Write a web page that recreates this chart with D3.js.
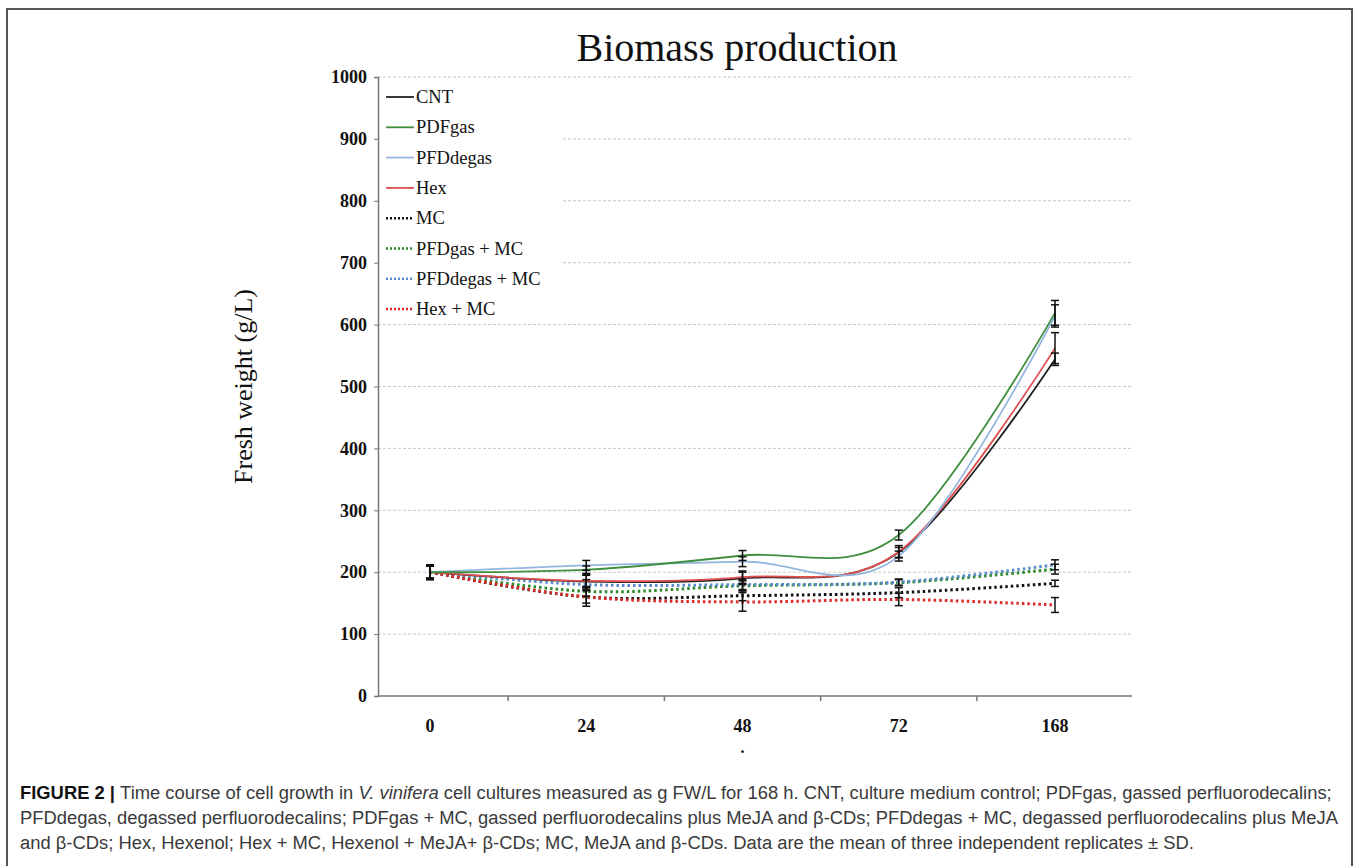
<!DOCTYPE html>
<html>
<head>
<meta charset="utf-8">
<script src="https://cdn.jsdelivr.net/npm/d3@7"></script>
<style>
  body { margin: 0; background: #fff; }
  svg { display: block; }
  .caption { font-family: "Liberation Sans", Arial, sans-serif; font-size: 18px; fill: #3a3a3a; }
</style>
</head>
<body>
<svg id="chart" width="1357" height="866"></svg>
<script>
// data (g/L fresh weight, mean and SD)
const categories = ["0", "24", "48", "72", "168"]
const seriesNames = ["CNT", "PDFgas", "PFDdegas", "Hex", "MC", "PFDgas + MC", "PFDdegas + MC", "Hex + MC"]

const cnt = [200, 185, 190, 232, 544]
const pdfGas = [200, 204, 227, 260, 619]
const pfdDegas = [200, 211, 217, 226, 614]
const hex = [200, 186, 192, 233, 562]
const mc = [200, 160, 162, 167, 182]
const pfdGasMc = [200, 169, 178, 183, 205]
const pfdDegasMc = [200, 180, 180, 184, 212]
const hexMc = [200, 160, 152, 156, 147]

const cntSD = [12, 10, 10, 8, 10]
const pdfGasSD = [10, 6, 8, 8, 20]
const pfdDegasSD = [10, 8, 8, 8, 18]
const hexSD = [10, 10, 10, 10, 25]
const mcSD = [10, 15, 8, 8, 5]
const pfdGasMcSD = [10, 8, 8, 5, 8]
const pfdDegasMcSD = [10, 8, 8, 5, 8]
const hexMcSD = [12, 10, 15, 10, 12]

const yTicks = [0, 100, 200, 300, 400, 500, 600, 700, 800, 900, 1000]

const colors = ["#222222", "#3f8f3f", "#93b6e0", "#e05050", "#111111", "#2a8a2a", "#5a8ccc", "#e02a2a"]
const dotted = [false, false, false, false, true, true, true, true]

const values = [cnt, pdfGas, pfdDegas, hex, mc, pfdGasMc, pfdDegasMc, hexMc]
const sds = [cntSD, pdfGasSD, pfdDegasSD, hexSD, mcSD, pfdGasMcSD, pfdDegasMcSD, hexMcSD]

const series = seriesNames.map((name, i) => ({
    name: name,
    color: colors[i],
    dotted: dotted[i],
    points: categories.map((c, j) => ({ cat: c, v: values[i][j], sd: sds[i][j] }))
}))

const svg = d3.select("#chart")

// frame round the figure
svg.append("path")
    .attr("d", "M7,866 L7,9 L1352,9 L1352,866")
    .attr("fill", "none")
    .attr("stroke", "#555")
    .attr("stroke-width", 2)

const plotLeft = 378
const plotRight = 1132

const x = d3.scalePoint().domain(categories).range([430, 1055])
const y = d3.scaleLinear().domain([0, 1000]).range([696, 77])

// gridlines
svg.append("g")
    .selectAll("line")
    .data(yTicks.filter(d => d > 0))
    .enter()
    .append("line")
    .attr("x1", plotLeft)
    .attr("x2", plotRight)
    .attr("y1", d => y(d))
    .attr("y2", d => y(d))
    .attr("stroke", "#c8c8c8")
    .attr("stroke-width", 1)
    .attr("stroke-dasharray", "3,2")

// y axis
const yAxis = svg.append("g")
    .attr("transform", `translate(${plotLeft},0)`)
    .call(d3.axisLeft(y).tickValues(yTicks).tickSize(4).tickPadding(7).tickFormat(d3.format("d")))
yAxis.select(".domain").attr("stroke", "#777").attr("stroke-width", 1.5)
yAxis.selectAll(".tick line").attr("stroke", "#777")
yAxis.selectAll("text")
    .attr("font-family", "Liberation Serif, Times New Roman, serif")
    .attr("font-size", 18)
    .attr("font-weight", "bold")
    .attr("fill", "#111")

// x axis, ticks sit between the categories
const step = x.step()
const between = categories.slice(1).map(c => x(c) - step / 2)
svg.append("line")
    .attr("x1", plotLeft).attr("x2", plotRight)
    .attr("y1", y(0)).attr("y2", y(0))
    .attr("stroke", "#777").attr("stroke-width", 1.5)
svg.append("g")
    .selectAll("line")
    .data(between)
    .enter()
    .append("line")
    .attr("x1", d => d).attr("x2", d => d)
    .attr("y1", y(0)).attr("y2", y(0) + 5)
    .attr("stroke", "#777").attr("stroke-width", 1.5)
svg.append("g")
    .selectAll("text")
    .data(categories)
    .enter()
    .append("text")
    .attr("x", d => x(d))
    .attr("y", y(0) + 36)
    .attr("text-anchor", "middle")
    .attr("font-family", "Liberation Serif, Times New Roman, serif")
    .attr("font-size", 18)
    .attr("font-weight", "bold")
    .attr("fill", "#111")
    .text(d => d)

// stray x axis title
svg.append("text")
    .attr("x", x("48"))
    .attr("y", 753)
    .attr("text-anchor", "middle")
    .attr("font-family", "Liberation Serif, serif")
    .attr("font-size", 16)
    .attr("font-weight", "bold")
    .text(".")

// title and y label
svg.append("text")
    .attr("x", 737)
    .attr("y", 61)
    .attr("text-anchor", "middle")
    .attr("font-family", "Liberation Serif, Times New Roman, serif")
    .attr("font-size", 40)
    .attr("fill", "#111")
    .text("Biomass production")

svg.append("text")
    .attr("transform", `translate(252,${(y(0) + y(1000)) / 2}) rotate(-90)`)
    .attr("text-anchor", "middle")
    .attr("font-family", "Liberation Serif, Times New Roman, serif")
    .attr("font-size", 26)
    .attr("fill", "#111")
    .text("Fresh weight (g/L)")

// legend, white box hides the gridlines behind it
svg.append("rect")
    .attr("x", plotLeft + 2).attr("y", 84)
    .attr("width", 182).attr("height", 238)
    .attr("fill", "#fff")

const legend = svg.append("g")
    .selectAll("g")
    .data(series)
    .enter()
    .append("g")
    .attr("transform", (d, i) => `translate(386,${97 + i * 30.3})`)
legend.append("line")
    .attr("x1", 0).attr("x2", 28)
    .attr("stroke", d => d.color)
    .attr("stroke-width", d => d.dotted ? 2.5 : 1.8)
    .attr("stroke-dasharray", d => d.dotted ? "2,2" : null)
legend.append("text")
    .attr("x", 30)
    .attr("y", 6)
    .attr("font-family", "Liberation Serif, Times New Roman, serif")
    .attr("font-size", 18.5)
    .attr("fill", "#111")
    .text(d => d.name)

// smoothed lines, drawn dotted ones first
const line = d3.line()
    .x(d => x(d.cat))
    .y(d => y(d.v))
    .curve(d3.curveCardinal.tension(0))

const drawOrder = [4, 5, 6, 7, 0, 3, 2, 1].map(i => series[i])

svg.append("g")
    .selectAll("path")
    .data(drawOrder)
    .enter()
    .append("path")
    .attr("d", d => line(d.points))
    .attr("fill", "none")
    .attr("stroke", d => d.color)
    .attr("stroke-width", d => d.dotted ? 3 : 1.8)
    .attr("stroke-dasharray", d => d.dotted ? "2.5,3" : null)

// error bars
const bars = svg.append("g")
    .selectAll("g")
    .data(series.flatMap(s => s.points))
    .enter()
    .append("g")
    .attr("stroke", "#111")
    .attr("stroke-width", 1.5)
bars.append("line")
    .attr("x1", d => x(d.cat)).attr("x2", d => x(d.cat))
    .attr("y1", d => y(d.v - d.sd)).attr("y2", d => y(d.v + d.sd))
bars.append("line")
    .attr("x1", d => x(d.cat) - 4).attr("x2", d => x(d.cat) + 4)
    .attr("y1", d => y(d.v + d.sd)).attr("y2", d => y(d.v + d.sd))
bars.append("line")
    .attr("x1", d => x(d.cat) - 4).attr("x2", d => x(d.cat) + 4)
    .attr("y1", d => y(d.v - d.sd)).attr("y2", d => y(d.v - d.sd))

// caption under the chart
const caption = svg.append("text").attr("class", "caption")
const lines = [
    [["FIGURE 2 | ", "b"], ["Time course of cell growth in ", ""], ["V. vinifera", "i"], [" cell cultures measured as g FW/L for 168 h. CNT, culture medium control; PDFgas, gassed perfluorodecalins;", ""]],
    [["PFDdegas, degassed perfluorodecalins; PDFgas + MC, gassed perfluorodecalins plus MeJA and β-CDs; PFDdegas + MC, degassed perfluorodecalins plus MeJA", ""]],
    [["and β-CDs; Hex, Hexenol; Hex + MC, Hexenol + MeJA+ β-CDs; MC, MeJA and β-CDs. Data are the mean of three independent replicates ± SD.", ""]]
]
lines.forEach((parts, i) => {
    parts.forEach((p, j) => {
        const t = caption.append("tspan").text(p[0])
        if (j === 0) t.attr("x", 20).attr("y", 799 + i * 25)
        if (p[1] === "b") t.attr("font-weight", "bold").attr("fill", "#111")
        if (p[1] === "i") t.attr("font-style", "italic")
    })
})
// fit the first caption line to the width it takes in the figure
const firstWidth = caption.node().getSubStringLength(0, lines[0].map(p => p[0]).join("").length)
caption.style("font-size", (18 * 1313 / firstWidth) + "px")
</script>
</body>
</html>
